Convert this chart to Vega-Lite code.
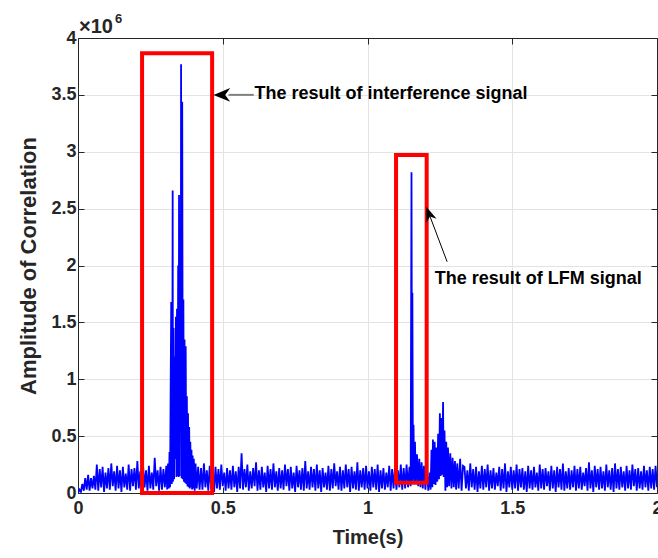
{
  "$schema": "https://vega.github.io/schema/vega-lite/v6.json",
  "autosize": {"type": "none"},
  "width": 579,
  "height": 455,
  "padding": {"left": 78, "top": 38, "right": 1, "bottom": 65},
  "background": "white",
  "config": {
    "view": {"stroke": null},
    "axis": {
      "domainColor": "#262626", "domainWidth": 1,
      "tickColor": "#262626", "tickSize": -6, "tickWidth": 1,
      "labelColor": "#262626", "titleColor": "#262626",
      "labelFont": "Liberation Sans", "titleFont": "Liberation Sans",
      "labelFontWeight": "bold", "titleFontWeight": "bold",
      "labelFontSize": 18, "titleFontSize": 20,
      "gridColor": "#e3e3e3", "gridWidth": 1
    }
  },
  "datasets": {
    "signal": [
      {"t":0,"a":0},{"t":0.005,"a":0.03},{"t":0.01,"a":0.01},{"t":0.015,"a":0.08},{"t":0.02,"a":0.02},{"t":0.025,"a":0.13},{"t":0.03,"a":0.03},{"t":0.035,"a":0.16},{"t":0.04,"a":0.02},{"t":0.045,"a":0.13},{"t":0.05,"a":0.04},{"t":0.055,"a":0.15},{"t":0.06,"a":0.03},
      {"t":0.065,"a":0.25},{"t":0.07,"a":0.02},{"t":0.075,"a":0.21},{"t":0.08,"a":0.05},{"t":0.085,"a":0.23},{"t":0.09,"a":0.01},{"t":0.095,"a":0.18},{"t":0.1,"a":0.04},{"t":0.105,"a":0.22},{"t":0.11,"a":0.03},{"t":0.115,"a":0.26},{"t":0.12,"a":0.06},{"t":0.125,"a":0.19},{"t":0.13,"a":0.02},{"t":0.135,"a":0.24},{"t":0.14,"a":0.04},{"t":0.145,"a":0.2},{"t":0.15,"a":0.01},{"t":0.155,"a":0.23},{"t":0.16,"a":0.05},{"t":0.165,"a":0.17},{"t":0.17,"a":0.03},{"t":0.175,"a":0.25},{"t":0.18,"a":0.02},{"t":0.185,"a":0.21},{"t":0.19,"a":0.06},{"t":0.195,"a":0.22},{"t":0.2,"a":0.03},{"t":0.205,"a":0.28},{"t":0.21,"a":0.04},{"t":0.215,"a":0.19},{"t":0.22,"a":0.01},{"t":0.225,"a":0.23},{"t":0.23,"a":0.05},{"t":0.235,"a":0.2},{"t":0.24,"a":0.02},{"t":0.245,"a":0.24},{"t":0.25,"a":0.04},{"t":0.255,"a":0.18},{"t":0.26,"a":0.03},{"t":0.265,"a":0.31},{"t":0.27,"a":0.06},{"t":0.275,"a":0.2},{"t":0.28,"a":0.02},{"t":0.285,"a":0.23},{"t":0.29,"a":0.03},{"t":0.295,"a":0.21},{"t":0.3,"a":0.05},{"t":0.305,"a":0.24},
      {"t":0.308,"a":0.03},{"t":0.311,"a":0.26},{"t":0.314,"a":0.04},{"t":0.316,"a":0.36},{"t":0.318,"a":0.05},{"t":0.32,"a":0.9},{"t":0.322,"a":1.68},{"t":0.324,"a":0.08},{"t":0.326,"a":1.15},{"t":0.327,"a":2.66},{"t":0.328,"a":0.1},{"t":0.33,"a":1.45},{"t":0.332,"a":0.12},{"t":0.334,"a":1.2},{"t":0.336,"a":0.3},{"t":0.338,"a":1.55},{"t":0.34,"a":0.14},{"t":0.342,"a":1.62},{"t":0.344,"a":0.15},{"t":0.346,"a":2.0},{"t":0.348,"a":0.14},{"t":0.349,"a":2.62},{"t":0.351,"a":0.15},{"t":0.353,"a":1.7},{"t":0.355,"a":0.6},{"t":0.356,"a":3.77},{"t":0.358,"a":0.13},{"t":0.36,"a":3.44},{"t":0.362,"a":0.12},{"t":0.364,"a":1.7},{"t":0.366,"a":0.1},{"t":0.368,"a":1.35},{"t":0.37,"a":0.09},{"t":0.372,"a":1.29},{"t":0.374,"a":0.08},{"t":0.376,"a":0.85},{"t":0.378,"a":0.06},{"t":0.38,"a":0.7},{"t":0.382,"a":0.05},{"t":0.384,"a":0.58},{"t":0.386,"a":0.04},{"t":0.388,"a":0.45},{"t":0.39,"a":0.05},{"t":0.392,"a":0.38},{"t":0.394,"a":0.03},{"t":0.396,"a":0.33},{"t":0.398,"a":0.04},{"t":0.4,"a":0.3},{"t":0.403,"a":0.02},{"t":0.406,"a":0.26},{"t":0.41,"a":0.04},{"t":0.415,"a":0.23},{"t":0.42,"a":0.03},
      {"t":0.425,"a":0.22},{"t":0.43,"a":0.03},{"t":0.435,"a":0.26},{"t":0.44,"a":0.05},{"t":0.445,"a":0.2},{"t":0.45,"a":0.02},{"t":0.455,"a":0.24},{"t":0.46,"a":0.04},{"t":0.465,"a":0.19},{"t":0.47,"a":0.01},{"t":0.475,"a":0.23},{"t":0.48,"a":0.04},{"t":0.485,"a":0.21},{"t":0.49,"a":0.03},{"t":0.495,"a":0.25},{"t":0.5,"a":0.06},{"t":0.505,"a":0.18},{"t":0.51,"a":0.02},{"t":0.515,"a":0.22},{"t":0.52,"a":0.04},{"t":0.525,"a":0.2},{"t":0.53,"a":0.03},{"t":0.535,"a":0.24},{"t":0.54,"a":0.05},{"t":0.545,"a":0.19},{"t":0.55,"a":0.01},{"t":0.555,"a":0.23},{"t":0.56,"a":0.04},{"t":0.565,"a":0.35},{"t":0.57,"a":0.03},{"t":0.575,"a":0.21},{"t":0.58,"a":0.05},{"t":0.585,"a":0.25},{"t":0.59,"a":0.02},{"t":0.595,"a":0.19},{"t":0.6,"a":0.04},{"t":0.605,"a":0.22},{"t":0.61,"a":0.06},{"t":0.615,"a":0.27},{"t":0.62,"a":0.02},{"t":0.625,"a":0.2},{"t":0.63,"a":0.03},{"t":0.635,"a":0.23},{"t":0.64,"a":0.05},{"t":0.645,"a":0.18},{"t":0.65,"a":0.01},{"t":0.655,"a":0.24},{"t":0.66,"a":0.04},{"t":0.665,"a":0.21},{"t":0.67,"a":0.03},{"t":0.675,"a":0.26},{"t":0.68,"a":0.05},{"t":0.685,"a":0.19},{"t":0.69,"a":0.02},{"t":0.695,"a":0.22},{"t":0.7,"a":0.04},{"t":0.705,"a":0.2},{"t":0.71,"a":0.03},{"t":0.715,"a":0.25},{"t":0.72,"a":0.06},{"t":0.725,"a":0.21},{"t":0.73,"a":0.02},{"t":0.735,"a":0.23},{"t":0.74,"a":0.04},{"t":0.745,"a":0.18},{"t":0.75,"a":0.01},{"t":0.755,"a":0.24},{"t":0.76,"a":0.05},{"t":0.765,"a":0.2},{"t":0.77,"a":0.03},{"t":0.775,"a":0.22},{"t":0.78,"a":0.02},{"t":0.785,"a":0.28},{"t":0.79,"a":0.04},{"t":0.795,"a":0.19},{"t":0.8,"a":0.03},{"t":0.805,"a":0.23},{"t":0.81,"a":0.05},{"t":0.815,"a":0.21},{"t":0.82,"a":0.02},{"t":0.825,"a":0.25},{"t":0.83,"a":0.04},{"t":0.835,"a":0.2},{"t":0.84,"a":0.01},{"t":0.845,"a":0.22},{"t":0.85,"a":0.05},{"t":0.855,"a":0.18},{"t":0.86,"a":0.03},{"t":0.865,"a":0.24},{"t":0.87,"a":0.02},{"t":0.875,"a":0.21},{"t":0.88,"a":0.04},{"t":0.885,"a":0.26},{"t":0.89,"a":0.06},{"t":0.895,"a":0.19},{"t":0.9,"a":0.03},{"t":0.905,"a":0.23},{"t":0.91,"a":0.02},{"t":0.915,"a":0.2},{"t":0.92,"a":0.04},{"t":0.925,"a":0.25},{"t":0.93,"a":0.05},{"t":0.935,"a":0.21},{"t":0.94,"a":0.01},{"t":0.945,"a":0.23},{"t":0.95,"a":0.04},{"t":0.955,"a":0.19},{"t":0.96,"a":0.03},{"t":0.965,"a":0.27},{"t":0.97,"a":0.02},{"t":0.975,"a":0.2},{"t":0.98,"a":0.05},{"t":0.985,"a":0.22},{"t":0.99,"a":0.03},{"t":0.995,"a":0.24},{"t":1.0,"a":0.04},{"t":1.005,"a":0.19},{"t":1.01,"a":0.02},{"t":1.015,"a":0.23},{"t":1.02,"a":0.05},{"t":1.025,"a":0.21},{"t":1.03,"a":0.03},{"t":1.035,"a":0.25},{"t":1.04,"a":0.01},{"t":1.045,"a":0.2},{"t":1.05,"a":0.04},{"t":1.055,"a":0.22},{"t":1.06,"a":0.03},{"t":1.065,"a":0.18},{"t":1.07,"a":0.05},{"t":1.075,"a":0.24},{"t":1.08,"a":0.02},{"t":1.085,"a":0.21},{"t":1.09,"a":0.04},{"t":1.095,"a":0.23},{"t":1.1,"a":0.03},{"t":1.105,"a":0.2},{"t":1.11,"a":0.05},{"t":1.115,"a":0.25},{"t":1.12,"a":0.03},
      {"t":1.125,"a":0.22},{"t":1.13,"a":0.04},{"t":1.135,"a":0.25},{"t":1.14,"a":0.05},{"t":1.145,"a":0.23},{"t":1.149,"a":0.06},{"t":1.152,"a":2.82},{"t":1.154,"a":0.1},{"t":1.155,"a":1.76},{"t":1.157,"a":0.12},{"t":1.159,"a":0.6},{"t":1.161,"a":0.1},{"t":1.164,"a":0.45},{"t":1.167,"a":0.08},{"t":1.171,"a":0.34},{"t":1.175,"a":0.06},{"t":1.179,"a":0.3},{"t":1.183,"a":0.05},{"t":1.187,"a":0.27},{"t":1.191,"a":0.04},{"t":1.195,"a":0.24},{"t":1.2,"a":0.03},{"t":1.205,"a":0.22},{"t":1.21,"a":0.02},{"t":1.215,"a":0.18},
      {"t":1.218,"a":0.03},{"t":1.221,"a":0.38},{"t":1.224,"a":0.05},{"t":1.226,"a":0.47},{"t":1.229,"a":0.08},{"t":1.232,"a":0.45},{"t":1.235,"a":0.07},{"t":1.238,"a":0.4},{"t":1.241,"a":0.1},{"t":1.244,"a":0.52},{"t":1.247,"a":0.12},{"t":1.25,"a":0.7},{"t":1.253,"a":0.15},{"t":1.255,"a":0.66},{"t":1.258,"a":0.16},{"t":1.261,"a":0.8},{"t":1.263,"a":0.14},{"t":1.266,"a":0.55},{"t":1.269,"a":0.02},{"t":1.272,"a":0.45},{"t":1.275,"a":0.05},{"t":1.278,"a":0.4},{"t":1.282,"a":0.06},{"t":1.286,"a":0.35},{"t":1.29,"a":0.04},{"t":1.294,"a":0.31},{"t":1.298,"a":0.05},{"t":1.302,"a":0.28},{"t":1.306,"a":0.03},{"t":1.31,"a":0.26},{"t":1.315,"a":0.04},{"t":1.32,"a":0.3},{"t":1.325,"a":0.02},{"t":1.33,"a":0.24},
      {"t":1.335,"a":0.23},{"t":1.34,"a":0.04},{"t":1.345,"a":0.2},{"t":1.35,"a":0.02},{"t":1.355,"a":0.26},{"t":1.36,"a":0.05},{"t":1.365,"a":0.21},{"t":1.37,"a":0.03},{"t":1.375,"a":0.23},{"t":1.38,"a":0.01},{"t":1.385,"a":0.19},{"t":1.39,"a":0.04},{"t":1.395,"a":0.24},{"t":1.4,"a":0.03},{"t":1.405,"a":0.21},{"t":1.41,"a":0.05},{"t":1.415,"a":0.25},{"t":1.42,"a":0.02},{"t":1.425,"a":0.2},{"t":1.43,"a":0.04},{"t":1.435,"a":0.22},{"t":1.44,"a":0.03},{"t":1.445,"a":0.18},{"t":1.45,"a":0.06},{"t":1.455,"a":0.23},{"t":1.46,"a":0.02},{"t":1.465,"a":0.21},{"t":1.47,"a":0.04},{"t":1.475,"a":0.26},{"t":1.48,"a":0.01},{"t":1.485,"a":0.19},{"t":1.49,"a":0.05},{"t":1.495,"a":0.23},{"t":1.5,"a":0.03},{"t":1.505,"a":0.2},{"t":1.51,"a":0.04},{"t":1.515,"a":0.25},{"t":1.52,"a":0.02},{"t":1.525,"a":0.21},{"t":1.53,"a":0.05},{"t":1.535,"a":0.22},{"t":1.54,"a":0.03},{"t":1.545,"a":0.19},{"t":1.55,"a":0.01},{"t":1.555,"a":0.24},{"t":1.56,"a":0.04},{"t":1.565,"a":0.2},{"t":1.57,"a":0.03},{"t":1.575,"a":0.23},{"t":1.58,"a":0.05},{"t":1.585,"a":0.18},{"t":1.59,"a":0.02},{"t":1.595,"a":0.25},{"t":1.6,"a":0.04},{"t":1.605,"a":0.21},{"t":1.61,"a":0.03},{"t":1.615,"a":0.22},{"t":1.62,"a":0.06},{"t":1.625,"a":0.19},{"t":1.63,"a":0.02},{"t":1.635,"a":0.24},{"t":1.64,"a":0.04},{"t":1.645,"a":0.2},{"t":1.65,"a":0.01},{"t":1.655,"a":0.23},{"t":1.66,"a":0.05},{"t":1.665,"a":0.21},{"t":1.67,"a":0.03},{"t":1.675,"a":0.26},{"t":1.68,"a":0.02},{"t":1.685,"a":0.19},{"t":1.69,"a":0.04},{"t":1.695,"a":0.22},{"t":1.7,"a":0.03},{"t":1.705,"a":0.2},{"t":1.71,"a":0.05},{"t":1.715,"a":0.24},{"t":1.72,"a":0.02},{"t":1.725,"a":0.21},{"t":1.73,"a":0.04},{"t":1.735,"a":0.23},{"t":1.74,"a":0.03},{"t":1.745,"a":0.18},{"t":1.75,"a":0.06},{"t":1.755,"a":0.22},{"t":1.76,"a":0.02},{"t":1.765,"a":0.27},{"t":1.77,"a":0.04},{"t":1.775,"a":0.2},{"t":1.78,"a":0.01},{"t":1.785,"a":0.24},{"t":1.79,"a":0.05},{"t":1.795,"a":0.21},{"t":1.8,"a":0.03},{"t":1.805,"a":0.23},{"t":1.81,"a":0.04},{"t":1.815,"a":0.19},{"t":1.82,"a":0.02},{"t":1.825,"a":0.25},{"t":1.83,"a":0.05},{"t":1.835,"a":0.2},{"t":1.84,"a":0.03},{"t":1.845,"a":0.22},{"t":1.85,"a":0.01},{"t":1.855,"a":0.26},{"t":1.86,"a":0.04},{"t":1.865,"a":0.21},{"t":1.87,"a":0.03},{"t":1.875,"a":0.23},{"t":1.88,"a":0.05},{"t":1.885,"a":0.19},{"t":1.89,"a":0.02},{"t":1.895,"a":0.24},{"t":1.9,"a":0.04},{"t":1.905,"a":0.2},{"t":1.91,"a":0.03},{"t":1.915,"a":0.25},{"t":1.92,"a":0.06},{"t":1.925,"a":0.21},{"t":1.93,"a":0.02},{"t":1.935,"a":0.22},{"t":1.94,"a":0.04},{"t":1.945,"a":0.19},{"t":1.95,"a":0.03},{"t":1.955,"a":0.24},{"t":1.96,"a":0.05},{"t":1.965,"a":0.2},{"t":1.97,"a":0.02},{"t":1.975,"a":0.23},{"t":1.98,"a":0.04},{"t":1.985,"a":0.21},{"t":1.99,"a":0.03},{"t":1.995,"a":0.24},{"t":2.0,"a":0.05}
    ],
    "boxes": [
      {"x1": 0.2213, "x2": 0.4633, "y1": 0, "y2": 3.866},
      {"x1": 1.0986, "x2": 1.2044, "y1": 0.0897, "y2": 2.971}
    ]
  },
  "resolve": {"axis": {"x": "independent", "y": "independent"}},
  "layer": [
    {
      "data": {"name": "signal"},
      "mark": {"type": "line", "color": "#0000ff", "strokeWidth": 1.8, "clip": true},
      "encoding": {
        "x": {"field": "t", "type": "quantitative",
              "scale": {"domain": [0, 2], "nice": false, "zero": false},
              "axis": {"orient": "bottom", "title": "Time(s)", "values": [0, 0.5, 1, 1.5, 2], "format": "~g", "grid": true, "labelPadding": 12, "titlePadding": 10, "labelFlush": false}},
        "y": {"field": "a", "type": "quantitative",
              "scale": {"domain": [0, 4], "nice": false},
              "axis": {"orient": "left", "title": "Amplitude of Correlation", "titleFontSize": 22, "values": [0, 0.5, 1, 1.5, 2, 2.5, 3, 3.5, 4], "format": "~g", "grid": true, "labelPadding": 8, "titlePadding": 10, "labelFlush": false}}
      }
    },
    {
      "data": {"name": "boxes"},
      "mark": {"type": "rect", "fill": null, "fillOpacity": 0, "stroke": "#ff0000", "strokeWidth": 4},
      "encoding": {
        "x": {"field": "x1", "type": "quantitative", "axis": {"orient": "top", "title": null, "labels": false, "grid": false, "values": [0, 0.5, 1, 1.5, 2]}},
        "x2": {"field": "x2"},
        "y": {"field": "y1", "type": "quantitative", "axis": {"orient": "right", "title": null, "labels": false, "grid": false, "values": [0, 0.5, 1, 1.5, 2, 2.5, 3, 3.5, 4]}},
        "y2": {"field": "y2"}
      }
    },
    {
      "data": {"values": [{"x1": 0.52, "x2": 0.607, "y": 3.5}]},
      "mark": {"type": "rule", "color": "#808080", "strokeWidth": 2},
      "encoding": {
        "x": {"field": "x1", "type": "quantitative", "axis": null},
        "x2": {"field": "x2"},
        "y": {"field": "y", "type": "quantitative", "axis": null}
      }
    },
    {
      "data": {"values": [{"x1": 1.275, "y1": 2.033, "x2": 1.216, "y2": 2.431}]},
      "mark": {"type": "rule", "color": "#000000", "strokeWidth": 1},
      "encoding": {
        "x": {"field": "x1", "type": "quantitative", "axis": null},
        "x2": {"field": "x2"},
        "y": {"field": "y1", "type": "quantitative", "axis": null},
        "y2": {"field": "y2"}
      }
    },
    {
      "data": {"values": [{"t": 0.468, "a": 3.5}]},
      "mark": {"type": "point", "shape": "M 0 0 L 2 -0.82 L 1.4 0 L 2 0.82 Z", "size": 279, "angle": 0, "filled": true, "color": "#000000", "opacity": 1, "strokeWidth": 0},
      "encoding": {
        "x": {"field": "t", "type": "quantitative", "axis": null},
        "y": {"field": "a", "type": "quantitative", "axis": null}
      }
    },
    {
      "data": {"values": [{"t": 1.203, "a": 2.517}]},
      "mark": {"type": "point", "shape": "M 0 0 L 2 -0.72 L 1.4 0 L 2 0.72 Z", "size": 225, "angle": 69.4, "filled": true, "color": "#000000", "opacity": 1, "strokeWidth": 0},
      "encoding": {
        "x": {"field": "t", "type": "quantitative", "axis": null},
        "y": {"field": "a", "type": "quantitative", "axis": null}
      }
    },
    {
      "data": {"values": [
        {"t": 0.6096, "a": 3.5, "label": "The result of interference signal"},
        {"t": 1.232, "a": 1.8725, "label": "The result of LFM signal"}
      ]},
      "mark": {"type": "text", "align": "left", "baseline": "alphabetic", "dy": 4, "font": "Liberation Sans", "fontWeight": "bold", "fontSize": 18, "color": "#000000"},
      "encoding": {
        "x": {"field": "t", "type": "quantitative", "axis": null},
        "y": {"field": "a", "type": "quantitative", "axis": null},
        "text": {"field": "label"}
      }
    },
    {
      "data": {"values": [{"t": 0, "a": 4, "label": "×10"}]},
      "mark": {"type": "text", "align": "left", "baseline": "alphabetic", "dx": 1, "dy": -5, "font": "Liberation Sans", "fontWeight": "bold", "fontSize": 20, "color": "#262626"},
      "encoding": {
        "x": {"field": "t", "type": "quantitative", "axis": null},
        "y": {"field": "a", "type": "quantitative", "axis": null},
        "text": {"field": "label"}
      }
    },
    {
      "data": {"values": [{"t": 0, "a": 4, "label": "6"}]},
      "mark": {"type": "text", "align": "left", "baseline": "alphabetic", "dx": 37, "dy": -15, "font": "Liberation Sans", "fontWeight": "bold", "fontSize": 13, "color": "#262626"},
      "encoding": {
        "x": {"field": "t", "type": "quantitative", "axis": null},
        "y": {"field": "a", "type": "quantitative", "axis": null},
        "text": {"field": "label"}
      }
    }
  ]
}
